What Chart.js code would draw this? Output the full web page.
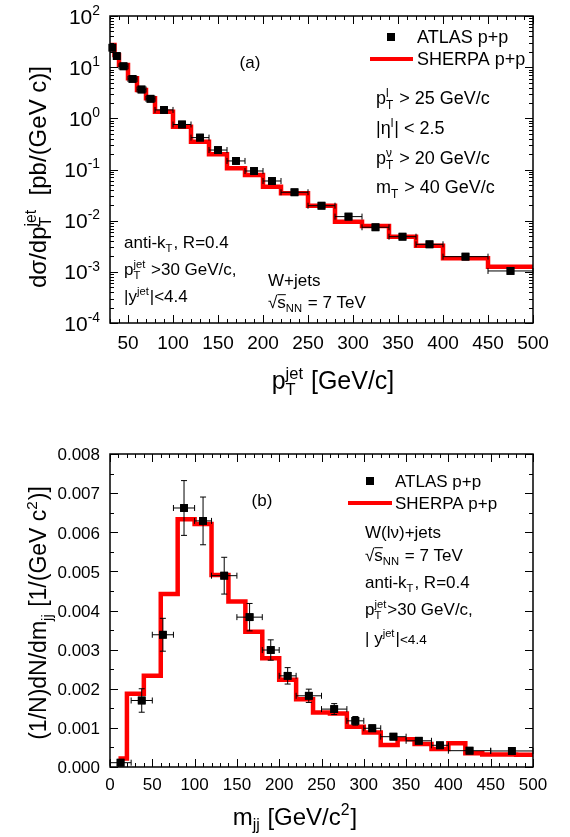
<!DOCTYPE html>
<html lang="en">
  <head>
    <meta charset="UTF-8" />
    <title>W+jets pT and mjj</title>
    <style>
      html,
      body {
        margin: 0;
        padding: 0;
        background: #fff;
      }
      #wrap {
        position: relative;
        width: 570px;
        height: 837px;
      }
      canvas {
        position: absolute;
        left: 0;
      }
      #chart_a {
        top: 0;
      }
      #chart_b {
        top: 400px;
      }
    </style>
  </head>
  <body>
    <div id="wrap">
      <canvas id="chart_a" width="570" height="400"></canvas>
      <canvas id="chart_b" width="570" height="437"></canvas>
    </div>
    <script src="https://cdn.jsdelivr.net/npm/chart.js@4.4.0/dist/chart.umd.min.js"></script>
    <script>
      // ---- panel (a): jet pT spectrum ----
      const ptAtlasLo = [30, 35, 40, 50, 60, 70, 80, 100, 120, 140, 160, 180, 200, 220, 250, 280, 310, 340, 370, 400, 450];
      const ptAtlasHi = [35, 40, 50, 60, 70, 80, 100, 120, 140, 160, 180, 200, 220, 250, 280, 310, 340, 370, 400, 450, 500];
      const ptAtlasY = [24, 16.5, 10.4, 5.9, 3.66, 2.41, 1.46, 0.758, 0.42, 0.24, 0.147, 0.0935, 0.0596, 0.0359, 0.0196, 0.012, 0.00743, 0.00486, 0.00345, 0.00198, 0.00104];
      const ptSherpaEdges = [30, 35, 40, 50, 60, 70, 80, 100, 120, 140, 160, 180, 200, 220, 250, 280, 310, 340, 370, 400, 450, 500];
      const ptSherpaY = [27.1, 17.3, 11.0, 6.06, 3.58, 2.46, 1.35, 0.687, 0.349, 0.198, 0.106, 0.078, 0.0461, 0.0343, 0.0196, 0.00955, 0.00787, 0.00486, 0.00324, 0.00184, 0.00126];
      const ptXTicks = [50, 100, 150, 200, 250, 300, 350, 400, 450, 500];
      const ptYExps = [2, 1, 0, -1, -2, -3, -4];

      // ---- panel (b): dijet mass (values in units of 1e-3) ----
      const mjjAtlasLo = [0, 25, 50, 75, 100, 120, 150, 180, 200, 220, 250, 280, 300, 320, 350, 380, 400, 450];
      const mjjAtlasHi = [25, 50, 75, 100, 120, 150, 180, 200, 220, 250, 280, 300, 320, 350, 380, 400, 450, 500];
      const mjjAtlasY = [0.11, 1.70, 3.38, 6.62, 6.29, 4.89, 3.83, 2.99, 2.33, 1.82, 1.48, 1.18, 0.99, 0.775, 0.67, 0.555, 0.417, 0.41];
      const mjjAtlasErr = [0.05, 0.3, 0.42, 0.7, 0.61, 0.47, 0.35, 0.26, 0.21, 0.17, 0.14, 0.11, 0.08, 0.06, 0.05, 0.05, 0.04, 0.04];
      const mjjSherpaEdges = [10, 20, 40, 60, 80, 100, 120, 140, 160, 180, 200, 220, 240, 260, 280, 300, 320, 340, 360, 380, 400, 420, 440, 460, 480, 500];
      const mjjSherpaY = [0.22, 1.87, 2.33, 4.42, 6.33, 6.21, 4.91, 4.23, 3.46, 2.78, 2.23, 1.73, 1.39, 1.37, 1.03, 0.88, 0.56, 0.71, 0.59, 0.46, 0.61, 0.35, 0.32, 0.32, 0.31];
      const mjjXTicks = [0, 50, 100, 150, 200, 250, 300, 350, 400, 450, 500];
      const mjjYTicks = [0, 1, 2, 3, 4, 5, 6, 7, 8];

      const FAMILY = '"Liberation Sans", Arial, Helvetica, sans-serif';

      // rich text: 'txt' | ['_',sub] | ['^',sup] | ['_^',sub,sup] | ['o',overlined] | ['s',smaller]
      function partWidth(ctx, p, size) {
        if (typeof p === "string" || p[0] === "o") {
          ctx.font = size + "px " + FAMILY;
          return ctx.measureText(typeof p === "string" ? p : p[1]).width;
        }
        if (p[0] === "s") {
          ctx.font = size * 0.8 + "px " + FAMILY;
          return ctx.measureText(p[1]).width;
        }
        ctx.font = size * 0.66 + "px " + FAMILY;
        if (p[0] === "_^") return Math.max(ctx.measureText(p[1]).width, ctx.measureText(p[2]).width) + 1;
        return ctx.measureText(p[1]).width + 1;
      }

      function drawRich(ctx, parts, x, y, size, align) {
        let w = 0;
        parts.forEach((p) => (w += partWidth(ctx, p, size)));
        let cx = align === "center" ? x - w / 2 : align === "right" ? x - w : x;
        const base = y + size * 0.36;
        ctx.textAlign = "left";
        ctx.textBaseline = "alphabetic";
        ctx.fillStyle = "#000";
        parts.forEach((p) => {
          const pw = partWidth(ctx, p, size);
          if (typeof p === "string") {
            ctx.font = size + "px " + FAMILY;
            ctx.fillText(p, cx, base);
          } else if (p[0] === "o") {
            ctx.font = size + "px " + FAMILY;
            ctx.fillText(p[1], cx, base);
            ctx.fillRect(cx, base - size * 0.82, pw, 1);
          } else if (p[0] === "s") {
            ctx.font = size * 0.8 + "px " + FAMILY;
            ctx.fillText(p[1], cx, base);
          } else {
            ctx.font = size * 0.66 + "px " + FAMILY;
            if (p[0] === "_" || p[0] === "_^") ctx.fillText(p[1], cx, base + size * 0.24);
            if (p[0] === "^") ctx.fillText(p[1], cx, base - size * 0.42);
            if (p[0] === "_^") ctx.fillText(p[2], cx, base - size * 0.42);
          }
          cx += pw;
        });
      }

      // frame, inward ticks, tick labels, legend and notes
      const decor = {
        id: "decor",
        afterDatasetsDraw(chart, args, opts) {
          const ctx = chart.ctx;
          const xs = chart.scales.x;
          const ys = chart.scales.y;
          const a = chart.chartArea;

          // error bars
          chart.data.datasets.forEach((ds) => {
            if (!ds.xLo) return;
            ctx.save();
            ctx.strokeStyle = "#000";
            ctx.lineWidth = 1;
            ds.data.forEach((p, i) => {
              const px = xs.getPixelForValue(p.x);
              const py = ys.getPixelForValue(p.y);
              const x0 = xs.getPixelForValue(ds.xLo[i]);
              const x1 = xs.getPixelForValue(ds.xHi[i]);
              ctx.beginPath();
              ctx.moveTo(x0, py);
              ctx.lineTo(x1, py);
              ctx.moveTo(x0, py - 3);
              ctx.lineTo(x0, py + 3);
              ctx.moveTo(x1, py - 3);
              ctx.lineTo(x1, py + 3);
              if (ds.yErr) {
                const y0 = ys.getPixelForValue(p.y - ds.yErr[i]);
                const y1 = ys.getPixelForValue(p.y + ds.yErr[i]);
                ctx.moveTo(px, y0);
                ctx.lineTo(px, y1);
                ctx.moveTo(px - 3, y0);
                ctx.lineTo(px + 3, y0);
                ctx.moveTo(px - 3, y1);
                ctx.lineTo(px + 3, y1);
              }
              ctx.stroke();
            });
            ctx.restore();
          });
          // redraw squares on top of the bars
          const meta = chart.getDatasetMeta(0);
          meta.data.forEach((el) => el.draw(ctx));
        },
        afterDraw(chart, args, opts) {
          const ctx = chart.ctx;
          const xs = chart.scales.x;
          const ys = chart.scales.y;
          const a = chart.chartArea;
          ctx.save();
          ctx.strokeStyle = "#000";
          ctx.lineWidth = 1.5;
          ctx.strokeRect(a.left, a.top, a.right - a.left, a.bottom - a.top);
          ctx.lineWidth = 1;
          ctx.beginPath();
          const tick = (vals, len, axis) => {
            vals.forEach((v) => {
              if (axis === "x") {
                const px = Math.round(xs.getPixelForValue(v)) + 0.5;
                ctx.moveTo(px, a.bottom);
                ctx.lineTo(px, a.bottom - len);
                ctx.moveTo(px, a.top);
                ctx.lineTo(px, a.top + len);
              } else {
                const py = Math.round(ys.getPixelForValue(v)) + 0.5;
                ctx.moveTo(a.left, py);
                ctx.lineTo(a.left + len, py);
                ctx.moveTo(a.right, py);
                ctx.lineTo(a.right - len, py);
              }
            });
          };
          tick(opts.xMajor, 8, "x");
          tick(opts.xMinor, 4, "x");
          tick(opts.yMajor, 8, "y");
          tick(opts.yMinor, 4, "y");
          ctx.stroke();

          // legend from dataset labels
          const lg = opts.legend;
          const ds = chart.data.datasets;
          ctx.fillStyle = "#000";
          ctx.fillRect(lg.sqX - 4, lg.y1 - 4, 8, 8);
          drawRich(ctx, [ds[0].label], lg.textX, lg.y1, lg.size, "left");
          ctx.strokeStyle = ds[1].borderColor;
          ctx.lineWidth = 4;
          ctx.beginPath();
          ctx.moveTo(lg.lineX0, lg.y2);
          ctx.lineTo(lg.lineX1, lg.y2);
          ctx.stroke();
          drawRich(ctx, [ds[1].label], lg.textX, lg.y2, lg.size, "left");

          opts.texts.forEach((t) => {
            if (t.rot) {
              ctx.save();
              ctx.translate(t.x, t.y);
              ctx.rotate(-Math.PI / 2);
              drawRich(ctx, t.parts, 0, 0, t.size, "center");
              ctx.restore();
            } else {
              drawRich(ctx, t.parts, t.x, t.y, t.size, t.align || "left");
            }
          });
          ctx.restore();
        },
      };

      function stepPoints(edges, vals) {
        const pts = vals.map((v, i) => ({ x: edges[i], y: v }));
        pts.push({ x: edges[edges.length - 1], y: vals[vals.length - 1] });
        return pts;
      }

      // ---------- chart (a) ----------
      const ptMinor = [];
      for (let v = 30; v <= 500; v += 10) ptMinor.push(v);
      const logMajor = ptYExps.map((e) => Math.pow(10, e));
      const logMinor = [];
      for (let e = -4; e < 2; e++) for (let m = 2; m <= 9; m++) logMinor.push(m * Math.pow(10, e));

      const textsA = [];
      ptXTicks.forEach((v) => textsA.push({ parts: [String(v)], x: 110 + ((v - 30) * 423) / 470, y: 342, size: 19, align: "center" }));
      ptYExps.forEach((e) =>
        textsA.push({ parts: ["10", ["^", e < 0 ? "-" + -e : String(e)]], x: 101, y: 16 + (2 - e) * 51.17, size: 21, align: "right" })
      );
      textsA.push(
        { parts: ["(a)"], x: 250, y: 62, size: 17, align: "center" },
        { parts: ["p", ["_^", "T", "l"], " > 25 GeV/c"], x: 376, y: 98, size: 18 },
        { parts: ["|η", ["^", "l"], "| < 2.5"], x: 376, y: 128, size: 18 },
        { parts: ["p", ["_^", "T", "ν"], " > 20 GeV/c"], x: 376, y: 158, size: 18 },
        { parts: ["m", ["_", "T"], " > 40 GeV/c"], x: 376, y: 187, size: 18 },
        { parts: ["anti-k", ["_", "T"], ", R=0.4"], x: 124, y: 242, size: 17 },
        { parts: ["p", ["_^", "T", "jet"], " >30 GeV/c,"], x: 124, y: 269, size: 17 },
        { parts: ["|y", ["^", "jet"], "|<4.4"], x: 124, y: 296, size: 17 },
        { parts: ["W+jets"], x: 268, y: 280, size: 17 },
        { parts: ["√", ["o", "s"], ["_", "NN"], " = 7 TeV"], x: 268, y: 302, size: 17 },
        { parts: ["p", ["_^", "T", "jet"], " [GeV/c]"], x: 333, y: 380, size: 25, align: "center" },
        { parts: ["dσ/dp", ["_^", "T", "jet"], "  [pb/(GeV c)]"], x: 37, y: 177, size: 24, rot: true }
      );

      new Chart(document.getElementById("chart_a"), {
        type: "scatter",
        data: {
          datasets: [
            {
              label: "ATLAS p+p",
              data: ptAtlasY.map((y, i) => ({ x: (ptAtlasLo[i] + ptAtlasHi[i]) / 2, y: y })),
              xLo: ptAtlasLo,
              xHi: ptAtlasHi,
              pointStyle: "rect",
              pointRadius: 5.5,
              backgroundColor: "#000",
              borderColor: "#000",
              borderWidth: 0,
              order: 0,
            },
            {
              label: "SHERPA p+p",
              type: "line",
              showLine: true,
              data: stepPoints(ptSherpaEdges, ptSherpaY),
              stepped: "before",
              borderColor: "#ff0000",
              borderWidth: 4.5,
              pointRadius: 0,
              fill: false,
              order: 1,
            },
          ],
        },
        options: {
          responsive: false,
          animation: false,
          layout: { padding: { left: 110, right: 37, top: 16, bottom: 77 } },
          scales: {
            x: { type: "linear", display: false, min: 30, max: 500 },
            y: { type: "logarithmic", display: false, min: 1e-4, max: 100 },
          },
          plugins: {
            legend: { display: false },
            tooltip: { enabled: false },
            decor: {
              xMajor: ptXTicks,
              xMinor: ptMinor,
              yMajor: logMajor,
              yMinor: logMinor,
              legend: { sqX: 391, textX: 417, lineX0: 370, lineX1: 413, y1: 37, y2: 59, size: 18 },
              texts: textsA,
            },
          },
        },
        plugins: [decor],
      });

      // ---------- chart (b) ----------
      const mjjMinor = [];
      for (let v = 0; v <= 500; v += 10) mjjMinor.push(v);
      const yMinorB = [];
      for (let v = 0.5; v < 8; v += 1) yMinorB.push(v);

      const textsB = [];
      mjjXTicks.forEach((v) => textsB.push({ parts: [String(v)], x: 110 + (v * 423) / 500, y: 384, size: 17, align: "center" }));
      mjjYTicks.forEach((v) => textsB.push({ parts: [(v / 1000).toFixed(3)], x: 100, y: 367 - v * 39.1, size: 17, align: "right" }));
      textsB.push(
        { parts: ["(b)"], x: 262, y: 100, size: 17, align: "center" },
        { parts: ["W(lν)+jets"], x: 365, y: 132, size: 17 },
        { parts: ["√", ["o", "s"], ["_", "NN"], " = 7 TeV"], x: 365, y: 155, size: 17 },
        { parts: ["anti-k", ["_", "T"], ", R=0.4"], x: 365, y: 182, size: 17 },
        { parts: ["p", ["_^", "T", "jet"], ">30 GeV/c,"], x: 365, y: 209, size: 17 },
        { parts: ["| y", ["^", "jet"], "|", ["s", "<4.4"]], x: 365, y: 238, size: 17 },
        { parts: ["m", ["_", "jj"], " [GeV/c", ["^", "2"], "]"], x: 295, y: 416, size: 24, align: "center" },
        { parts: ["(1/N)dN/dm", ["_", "jj"], " [1/(GeV c", ["^", "2"], ")]"], x: 38, y: 213, size: 23, rot: true }
      );

      new Chart(document.getElementById("chart_b"), {
        type: "scatter",
        data: {
          datasets: [
            {
              label: "ATLAS p+p",
              data: mjjAtlasY.map((y, i) => ({ x: (mjjAtlasLo[i] + mjjAtlasHi[i]) / 2, y: y / 1000 })),
              xLo: mjjAtlasLo,
              xHi: mjjAtlasHi,
              yErr: mjjAtlasErr.map((e) => e / 1000),
              pointStyle: "rect",
              pointRadius: 5.5,
              backgroundColor: "#000",
              borderColor: "#000",
              borderWidth: 0,
              order: 0,
            },
            {
              label: "SHERPA p+p",
              type: "line",
              showLine: true,
              data: stepPoints(mjjSherpaEdges, mjjSherpaY.map((v) => v / 1000)),
              stepped: "before",
              borderColor: "#ff0000",
              borderWidth: 4.5,
              pointRadius: 0,
              fill: false,
              order: 1,
            },
          ],
        },
        options: {
          responsive: false,
          animation: false,
          layout: { padding: { left: 110, right: 37, top: 54, bottom: 70 } },
          scales: {
            x: { type: "linear", display: false, min: 0, max: 500 },
            y: { type: "linear", display: false, min: 0, max: 0.008 },
          },
          plugins: {
            legend: { display: false },
            tooltip: { enabled: false },
            decor: {
              xMajor: mjjXTicks,
              xMinor: mjjMinor,
              yMajor: mjjYTicks.map((v) => v / 1000),
              yMinor: yMinorB.map((v) => v / 1000),
              legend: { sqX: 370, textX: 395, lineX0: 348, lineX1: 392, y1: 81, y2: 103, size: 17 },
              texts: textsB,
            },
          },
        },
        plugins: [decor],
      });
    </script>
  </body>
</html>
